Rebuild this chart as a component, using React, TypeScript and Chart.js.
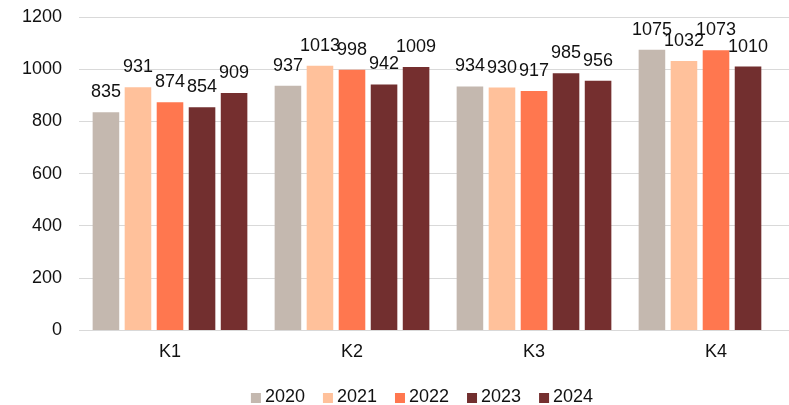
import React, { useEffect, useRef } from "react";
import { Chart, registerables } from "chart.js";

Chart.register(...registerables);

const categories = ["K1", "K2", "K3", "K4"];
const years = ["2020", "2021", "2022", "2023", "2024"];
const values2020 = [835, 937, 934, 1075];
const values2021 = [931, 1013, 930, 1032];
const values2022 = [874, 998, 917, 1073];
const values2023 = [854, 942, 985, 1010];
const values2024 = [909, 1009, 956, null];
const seriesValues = [values2020, values2021, values2022, values2023, values2024];
const seriesColors = ["#C4B8AF", "#FFC19B", "#FF774F", "#722F2F", "#752F2F"];
const yMin = 0;
const yMax = 1200;
const yStep = 200;

const FONT = "'Liberation Sans', Arial, sans-serif";
const TEXT = "#111111";
const GRID = "#D9D9D9";

const valueLabels = {
  id: "valueLabels",
  afterDatasetsDraw(chart: any) {
    const ctx = chart.ctx;
    ctx.save();
    ctx.font = `18px ${FONT}`;
    ctx.fillStyle = TEXT;
    ctx.textAlign = "center";
    ctx.textBaseline = "alphabetic";
    chart.data.datasets.forEach((ds: any, i: number) => {
      const meta = chart.getDatasetMeta(i);
      meta.data.forEach((el: any, j: number) => {
        const v = ds.data[j];
        if (v === null || v === undefined) return;
        ctx.fillText(String(v), el.x, el.y - 15);
      });
    });
    ctx.restore();
  },
};

const customLegend = {
  id: "customLegend",
  afterDraw(chart: any) {
    const ctx = chart.ctx;
    ctx.save();
    ctx.font = `18px ${FONT}`;
    const box = 10;
    const gap = 4;
    const spacing = 18;
    const items = chart.data.datasets.map((ds: any) => ({
      text: ds.label,
      color: ds.backgroundColor,
      w: ctx.measureText(ds.label).width,
    }));
    const total =
      items.reduce((s: number, it: any) => s + box + gap + it.w, 0) +
      spacing * (items.length - 1);
    let x = 422 - total / 2;
    const cy = 397;
    items.forEach((it: any) => {
      ctx.fillStyle = it.color;
      ctx.fillRect(x, cy - 4, box, box);
      ctx.fillStyle = TEXT;
      ctx.textAlign = "left";
      ctx.textBaseline = "middle";
      ctx.fillText(it.text, x + box + gap, cy);
      x += box + gap + it.w + spacing;
    });
    ctx.restore();
  },
};

export default function App() {
  const canvasRef = useRef<HTMLCanvasElement | null>(null);

  useEffect(() => {
    if (!canvasRef.current) return;
    const chart = new Chart(canvasRef.current, {
      type: "bar",
      data: {
        labels: categories,
        datasets: years.map((y, i) => ({
          label: y,
          data: seriesValues[i],
          backgroundColor: seriesColors[i],
          borderWidth: 0,
          categoryPercentage: 0.88,
          barPercentage: 0.83,
        })),
      },
      options: {
        responsive: false,
        animation: false,
        devicePixelRatio: 1,
        layout: { padding: { left: 0, right: 37, top: 17, bottom: 31 } },
        plugins: {
          legend: { display: false },
          tooltip: { enabled: false },
        },
        scales: {
          x: {
            grid: { display: false, drawTicks: false },
            border: { display: true, color: GRID, width: 1 },
            ticks: { font: { family: FONT, size: 18 }, color: TEXT, padding: 11 },
          },
          y: {
            min: yMin,
            max: yMax,
            ticks: {
              stepSize: yStep,
              font: { family: FONT, size: 18 },
              color: TEXT,
              padding: 17,
              callback: (v: any) => String(v),
            },
            grid: { color: GRID, drawTicks: false, lineWidth: 1 },
            border: { display: false },
            afterFit(scale: any) {
              scale.width = 79;
              scale.paddingTop = 0;
              scale.paddingBottom = 0;
            },
          },
        },
      } as any,
      plugins: [valueLabels, customLegend],
    });
    return () => chart.destroy();
  }, []);

  return (
    <div
      style={{
        position: "fixed",
        left: 0,
        top: 0,
        width: 789,
        height: 405,
        overflow: "hidden",
        background: "#fff",
      }}
    >
      <canvas ref={canvasRef} width={844} height={405} style={{ display: "block" }} />
    </div>
  );
}
